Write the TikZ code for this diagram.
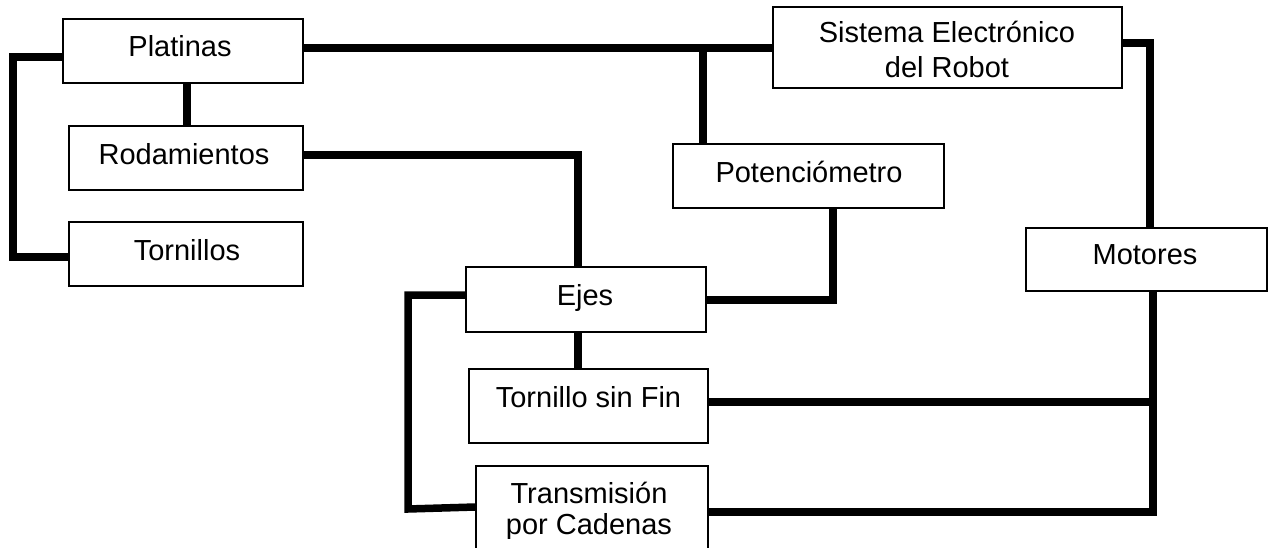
\documentclass[tikz,border=0pt]{standalone}
\usepackage{fontspec}
\setmainfont{Liberation Sans}
\begin{document}
\begin{tikzpicture}[x=1pt,y=-1pt,
  box/.style={draw=black,line width=1.3pt,rectangle,inner sep=0pt},
  txt/.style={anchor=base,inner sep=0pt,font=\fontsize{29}{35}\selectfont},
  conn/.style={line width=7.5pt,line join=miter}]
\useasboundingbox (0,0) rectangle (1269,548);

% boxes
\node[box,minimum width=240,minimum height=64] (plat) at (183,51) {};
\node[box,minimum width=234,minimum height=64] (rod)  at (186,158) {};
\node[box,minimum width=234,minimum height=64] (torn) at (186,254) {};
\node[box,minimum width=349,minimum height=81] (sis)  at (947.5,47.5) {};
\node[box,minimum width=271,minimum height=64] (pot)  at (808.5,176) {};
\node[box,minimum width=240,minimum height=65] (ejes) at (586,299.5) {};
\node[box,minimum width=239,minimum height=74] (tsf)  at (588.5,406) {};
\node[box,minimum width=232,minimum height=130] (trans) at (592,531) {};
\node[box,minimum width=241,minimum height=63] (mot)  at (1146.5,259.5) {};

% labels
\node[txt] (platT) at (180,57) {Platinas};
\node[txt] (rodT)  at (184,165) {Rodamientos};
\node[txt] (tornT) at (187,261) {Tornillos};
\node[txt] (sisT1) at (947,43) {Sistema Electrónico};
\node[txt] (sisT2) at (947,78) {del Robot};
\node[txt] (potT)  at (809,183) {Potenciómetro};
\node[txt] (ejesT) at (585,305) {Ejes};
\node[txt] (tsfT)  at (588.5,407) {Tornillo sin Fin};
\node[txt] (motT)  at (1145,265) {Motores};
\begin{scope}
  \clip (0,0) rectangle (1269,538);
  \node[txt] (transT1) at (589,503) {Transmisión};
  \node[txt] (transT2) at (589,534) {por Cadenas};
\end{scope}

% connectors
\coordinate (jTop) at (703,48);
\draw[conn] (plat.west |- 0,57) -- (13,57) -- (13,257) -- (torn.west |- 0,257);
\draw[conn] (plat.south -| 187,0) -- (rod.north -| 187,0);
\draw[conn] (plat.east |- 0,48) -- (sis.west |- 0,48);
\draw[conn] (jTop) -- (pot.north -| jTop);
\draw[conn] (rod.east |- 0,155) -- (578,155) -- (ejes.north -| 578,0);
\draw[conn] (ejes.east |- 0,300) -- (833,300) -- (pot.south -| 833,0);
\draw[conn] (ejes.west |- 0,295) -- (408,295) -- (408,509) -- (trans.west |- 0,507);
\draw[conn] (ejes.south -| 578,0) -- (tsf.north -| 578,0);
\draw[conn] (sis.east |- 0,43) -- (1150,43) -- (mot.north -| 1150,0);
\draw[conn] (mot.south -| 1153,0) -- (1153,512);
\draw[conn] (tsf.east |- 0,402) -- (1156.75,402);
\draw[conn] (trans.east |- 0,512) -- (1156.75,512);
\end{tikzpicture}
\end{document}
